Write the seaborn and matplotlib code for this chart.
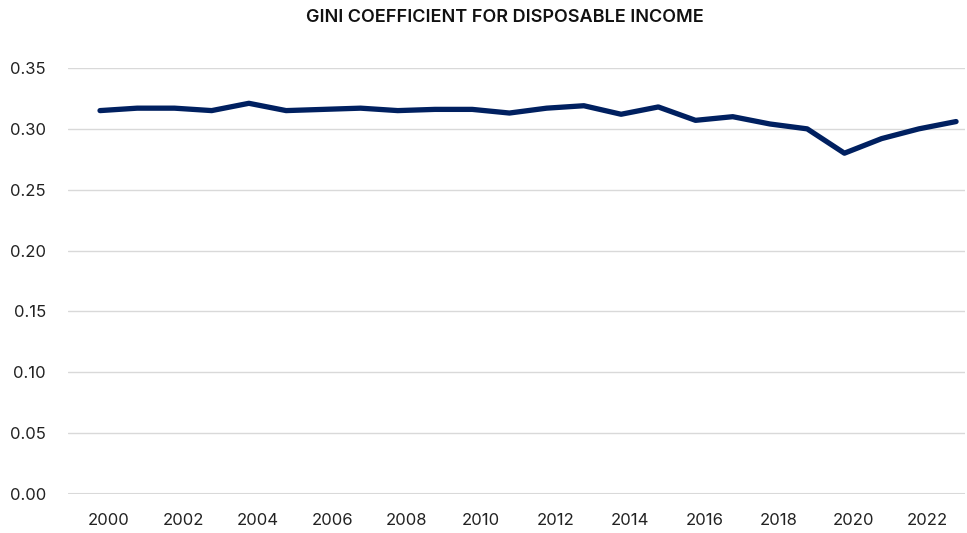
import matplotlib
matplotlib.use("Agg")
import matplotlib.pyplot as plt
import matplotlib.transforms as mtransforms
import seaborn as sns
import pandas as pd

years = list(range(2000, 2024))
gini = [0.315, 0.317, 0.317, 0.315, 0.321, 0.315, 0.316, 0.317, 0.315, 0.316,
        0.316, 0.313, 0.317, 0.319, 0.312, 0.318, 0.307, 0.310, 0.304, 0.300,
        0.280, 0.292, 0.300, 0.306]
ytick_vals = [0.00, 0.05, 0.10, 0.15, 0.20, 0.25, 0.30, 0.35]
xtick_years = list(range(2000, 2023, 2))
title = "GINI COEFFICIENT FOR DISPOSABLE INCOME"

df = pd.DataFrame({"year": years, "gini": gini})

sns.set_theme(style="white")
plt.rcParams["font.family"] = ["Inter", "DejaVu Sans"]

fig = plt.figure(figsize=(9.67, 5.33), dpi=100)
ax = fig.add_axes([68 / 967, 1 - 494 / 533, (965 - 68) / 967, (494 - 68) / 533])

for v in ytick_vals[1:]:
    ax.axhline(v, color="#d9d9d9", lw=1.0, zorder=0)
ax.axhline(0, color="#d9d9d9", lw=2.2, zorder=0)

sns.lineplot(data=df, x="year", y="gini", ax=ax, color="#002060", lw=3.8,
             solid_capstyle="round", solid_joinstyle="round", clip_on=False, zorder=3)

ax.set_xlim(1999.14, 2023.24)
ax.set_ylim(0, 0.35)
ax.set_yticks(ytick_vals)
ax.set_yticklabels([f"{v:.2f}" for v in ytick_vals])
ax.set_xticks(xtick_years)
ax.set_xticklabels([str(y) for y in xtick_years])
ax.tick_params(axis="y", length=0, pad=16, labelsize=12, colors="#222222")
ax.tick_params(axis="x", length=0, pad=14, labelsize=12, colors="#222222")
offset = mtransforms.ScaledTranslation(9 / 100, 0, fig.dpi_scale_trans)
for lab in ax.get_xticklabels():
    lab.set_transform(lab.get_transform() + offset)
ax.set_xlabel("")
ax.set_ylabel("")
for s in ax.spines.values():
    s.set_visible(False)
ax.grid(False)

fig.text(0.522, 1 - 17 / 533, title, ha="center", va="center", fontsize=13,
         fontweight="semibold", color="#111111")

fig.savefig("out.png", dpi=100)
